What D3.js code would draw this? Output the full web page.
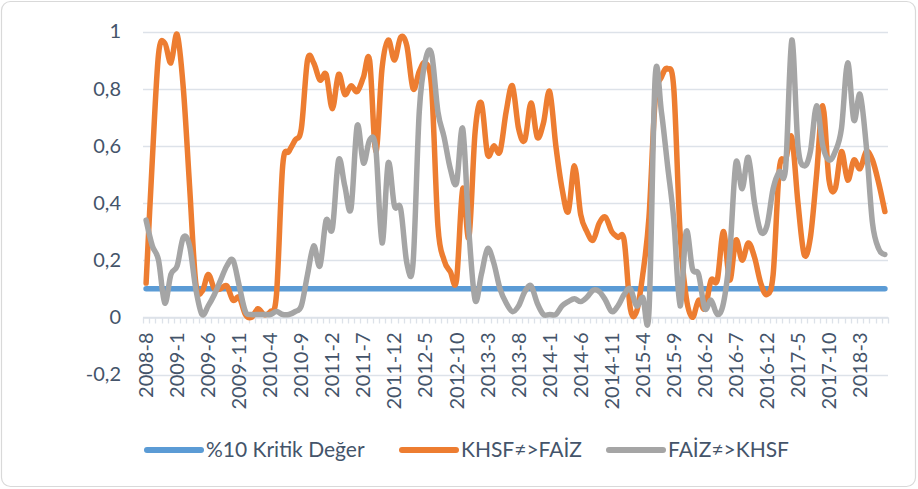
<!DOCTYPE html>
<html><head><meta charset="utf-8">
<script src="https://cdn.jsdelivr.net/npm/d3@7/dist/d3.min.js"></script>
<style>
body{margin:0;background:#fff;}
text{font-family:Lato,"Open Sans",sans-serif;fill:#44546a;}
</style></head>
<body>
<svg id="c" width="918" height="489"></svg>
<script>
// ---- data ----
const startYear = 2008, startMonth = 8, monthCount = 120;
const categories = [];
for (let k = 0; k < monthCount; k++) {
  const m = startMonth - 1 + k;
  categories.push((startYear + Math.floor(m / 12)) + "-" + (m % 12 + 1));
}
const criticalValue = 0.1;
const khsfToFaiz = [
0.12,0.55,0.92,0.96,0.89,0.99,0.80,0.46,0.12,0.09,
0.15,0.10,0.10,0.11,0.06,0.07,0.01,0.00,0.03,0.01,
0.02,0.08,0.53,0.58,0.62,0.66,0.90,0.89,0.83,0.85,
0.73,0.85,0.78,0.81,0.79,0.84,0.90,0.58,0.87,0.97,
0.90,0.98,0.95,0.80,0.86,0.89,0.80,0.32,0.20,0.16,
0.13,0.45,0.28,0.65,0.75,0.57,0.60,0.58,0.72,0.81,
0.66,0.62,0.75,0.63,0.68,0.79,0.60,0.45,0.37,0.53,
0.36,0.30,0.27,0.33,0.35,0.30,0.28,0.27,0.03,0.02,
0.15,0.35,0.76,0.84,0.87,0.80,0.30,0.07,0.00,0.06,
0.03,0.13,0.13,0.30,0.13,0.27,0.20,0.26,0.21,0.12,
0.08,0.15,0.52,0.55,0.63,0.40,0.22,0.28,0.50,0.74,
0.48,0.45,0.58,0.48,0.55,0.52,0.58,0.55,0.47,0.37];
const faizToKhsf = [
0.34,0.25,0.20,0.05,0.15,0.18,0.28,0.25,0.10,0.01,
0.04,0.08,0.13,0.18,0.20,0.11,0.02,0.01,0.01,0.01,
0.01,0.02,0.01,0.01,0.02,0.04,0.15,0.25,0.18,0.34,
0.31,0.55,0.46,0.38,0.67,0.54,0.62,0.59,0.26,0.54,
0.39,0.38,0.19,0.19,0.72,0.90,0.92,0.72,0.63,0.52,
0.47,0.66,0.30,0.06,0.15,0.24,0.19,0.10,0.05,0.02,
0.04,0.09,0.11,0.05,0.01,0.01,0.01,0.04,0.055,0.065,
0.055,0.07,0.095,0.09,0.06,0.02,0.04,0.08,0.10,0.04,
0.07,0.02,0.84,0.72,0.53,0.34,0.04,0.30,0.17,0.15,
0.03,0.06,0.01,0.05,0.22,0.54,0.45,0.56,0.40,0.30,
0.32,0.45,0.51,0.52,0.97,0.60,0.53,0.58,0.74,0.60,
0.55,0.58,0.66,0.89,0.69,0.78,0.60,0.33,0.24,0.22];
const yTickValues = [-0.2, 0, 0.2, 0.4, 0.6, 0.8, 1];
const yTickLabels = ["-0,2", "0", "0,2", "0,4", "0,6", "0,8", "1"];
const seriesNames = ["%10 Kritik Değer", "KHSF≠>FAİZ", "FAİZ≠>KHSF"];
const seriesColors = ["#5b9bd5", "#ed7d31", "#a5a5a5"];

// ---- drawing ----
const svg = d3.select("#c");
svg.append("rect").attr("x",1.5).attr("y",1.5).attr("width",914).attr("height",485)
  .attr("rx",9).attr("fill","#fff").attr("stroke","#d9d9d9").attr("stroke-width",1.2);

const left = 143, right = 888;
const x = d3.scaleBand().domain(categories).range([left, right]);
const cx = c => x(c) + x.bandwidth() / 2;
const y = d3.scaleLinear().domain([-0.2, 1]).range([374.5, 31.5]);

// gridlines
svg.append("g").selectAll("line").data(yTickValues).join("line")
  .attr("x1", left).attr("x2", right)
  .attr("y1", d => Math.round(y(d)) + 0.5).attr("y2", d => Math.round(y(d)) + 0.5)
  .attr("stroke", "#dde2e9").attr("stroke-width", 1.3);

// y axis labels
const yAxis = d3.axisLeft(y).tickValues(yTickValues)
  .tickFormat((d, i) => yTickLabels[i]).tickSize(0).tickPadding(0);
const yg = svg.append("g").attr("transform", "translate(121,0)").call(yAxis);
yg.select(".domain").remove();
yg.selectAll("text").attr("font-size", 20).attr("fill", "#44546a")
  .attr("font-family", "Lato, sans-serif");

// x axis at zero with minor ticks at each category boundary
const y0 = Math.round(y(0)) + 0.5;
const tickG = svg.append("g");
tickG.selectAll("line").data(categories.concat(["__end"])).join("line")
  .attr("x1", (d, i) => i < categories.length ? Math.round(x(d)) + 0.5 : right + 0.5)
  .attr("x2", (d, i) => i < categories.length ? Math.round(x(d)) + 0.5 : right + 0.5)
  .attr("y1", y0).attr("y2", y0 + 6)
  .attr("stroke", "#dde2e9").attr("stroke-width", 1.3);

const xLabelCats = categories.filter((d, i) => i % 5 === 0);
const xAxis = d3.axisBottom(x).tickValues(xLabelCats).tickSize(0).tickPadding(0);
const xg = svg.append("g").attr("transform", "translate(0," + y0 + ")").call(xAxis);
xg.select(".domain").attr("stroke", "#dde2e9").attr("stroke-width", 1.3);
xg.selectAll("text")
  .attr("font-size", 20).attr("fill", "#44546a").attr("font-family", "Lato, sans-serif")
  .attr("transform", "rotate(-90)")
  .attr("text-anchor", "end").attr("dy", "0.35em").attr("x", -15).attr("y", 0);

// lines
const line = d3.line().x((d, i) => cx(categories[i])).y(d => y(d)).curve(d3.curveCardinal.tension(0));
const critical = categories.map(() => criticalValue);
const allSeries = [critical, khsfToFaiz, faizToKhsf];
svg.append("g").selectAll("path").data(allSeries).join("path")
  .attr("d", d => line(d)).attr("fill", "none")
  .attr("stroke", (d, i) => seriesColors[i]).attr("stroke-width", 5.5)
  .attr("stroke-linejoin", "round").attr("stroke-linecap", "round");

// legend
const legendX = [147, 402, 609];
const lg = svg.append("g").selectAll("g").data(seriesNames).join("g")
  .attr("transform", (d, i) => "translate(" + legendX[i] + ",450)");
lg.append("line").attr("x1", 0).attr("x2", 54).attr("y1", 0).attr("y2", 0)
  .attr("stroke", (d, i) => seriesColors[i]).attr("stroke-width", 6).attr("stroke-linecap", "round");
lg.append("text").attr("x", 59).attr("y", 0).attr("dy", "0.35em")
  .attr("font-size", 21).attr("fill", "#44546a").text(d => d);
</script>
</body></html>
